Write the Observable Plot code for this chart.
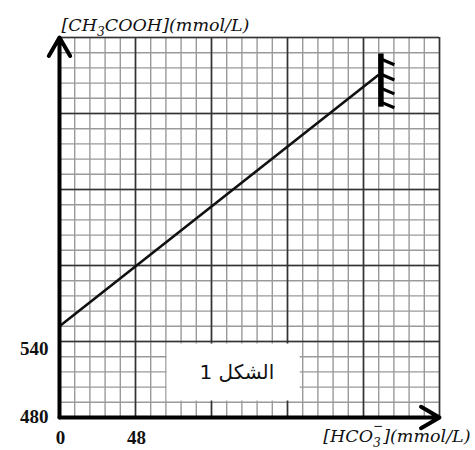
<!DOCTYPE html>
<html>
<head>
<meta charset="utf-8">
<script src="https://cdn.jsdelivr.net/npm/d3@7"></script>
<script src="https://cdn.jsdelivr.net/npm/@observablehq/plot@0.6"></script>
<style>
  html, body { margin: 0; padding: 0; background: #fff; }
  #chart svg { display: block; }
</style>
</head>
<body>
<div id="chart"></div>
<script>
// ---- data ----
const xDomain = [0, 240];
const yDomain = [480, 780];
const xMajorStep = 48;
const yMajorStep = 60;
const xTickLabels = [0, 48];
const yTickLabels = [480, 540];
const lineX = [0, 201];
const lineY = [552, 750];
const hatchX = 203;
const hatchY = [725, 767];
const hatchTickY = [763, 751, 740, 729];
const hatchTickDx = 8.5;
const hatchTickDy = -4.5;
const boxX = [68, 152];
const boxY = [493, 538];
const boxLabel = "الشكل 1";
const yTitle = "[CH₃COOH](mmol/L)";
const xTitle = "[HCO₃⁻](mmol/L)";

// ---- derived tables ----
const xMinor = d3.range(xDomain[0], xDomain[1] + 0.01, xMajorStep / 5);
const yMinor = d3.range(yDomain[0], yDomain[1] + 0.01, yMajorStep / 5);
const xMajor = d3.range(xDomain[0], xDomain[1] + 0.01, xMajorStep);
const yMajor = d3.range(yDomain[0], yDomain[1] + 0.01, yMajorStep);
const linePts = lineX.map((x, i) => ({x, y: lineY[i]}));
const hatchTicks = hatchTickY.map(y => ({x1: hatchX, y1: y, x2: hatchX + hatchTickDx, y2: y + hatchTickDy}));

const serif = "'Liberation Serif', 'DejaVu Serif', serif";
const italicSerif = "'DejaVu Serif', 'Liberation Serif', serif";

const chart = Plot.plot({
  width: 475,
  height: 450,
  marginLeft: 59,
  marginRight: 36,
  marginTop: 37,
  marginBottom: 33,
  x: {domain: xDomain},
  y: {domain: yDomain},
  axis: null,
  marks: [
    Plot.ruleX(xMinor, {stroke: "#9a9a9a", strokeWidth: 1.4}),
    Plot.ruleY(yMinor, {stroke: "#9a9a9a", strokeWidth: 1.4}),
    Plot.ruleX(xMajor, {stroke: "#333", strokeWidth: 1.6}),
    Plot.ruleY(yMajor, {stroke: "#333", strokeWidth: 1.6}),
    Plot.rect([{}], {x1: () => boxX[0], x2: () => boxX[1], y1: () => boxY[0], y2: () => boxY[1], fill: "#fff"}),
    Plot.text([boxLabel], {
      x: () => (boxX[0] + boxX[1]) / 2 + 2,
      y: () => (boxY[0] + boxY[1]) / 2,
      text: d => d,
      fontFamily: "'DejaVu Sans', 'Noto Sans', sans-serif",
      fontSize: 20,
      fontWeight: 500,
      fill: "#111"
    }),
    Plot.line(linePts, {x: "x", y: "y", stroke: "#111", strokeWidth: 2.6}),
    Plot.ruleX([hatchX], {y1: hatchY[0], y2: hatchY[1], stroke: "#000", strokeWidth: 5.5}),
    Plot.link(hatchTicks, {x1: "x1", y1: "y1", x2: "x2", y2: "y2", stroke: "#000", strokeWidth: 3.2}),
    Plot.arrow([{}], {x1: xDomain[0], y1: yDomain[0], x2: xDomain[0], y2: yDomain[1], stroke: "#000", strokeWidth: 4}),
    Plot.arrow([{}], {x1: xDomain[0], y1: yDomain[0], x2: xDomain[1], y2: yDomain[0], stroke: "#000", strokeWidth: 4}),
    Plot.axisX(xTickLabels, {
      tickSize: 0, tickPadding: 13, label: null, dx: 1,
      fontFamily: serif, fontWeight: "bold", fontSize: 19, fill: "#111"
    }),
    Plot.axisY([yTickLabels[0]], {
      tickSize: 0, tickPadding: 11, label: null, dy: -1,
      fontFamily: serif, fontWeight: "bold", fontSize: 19, fill: "#111"
    }),
    Plot.axisY([yTickLabels[1]], {
      tickSize: 0, tickPadding: 11, label: null, dy: 7,
      fontFamily: serif, fontWeight: "bold", fontSize: 19, fill: "#111"
    }),
    Plot.text([yTitle], {
      frameAnchor: "top-left", text: d => d, textAnchor: "start",
      dx: 2, dy: -19,
      fontFamily: italicSerif, fontStyle: "italic", fontSize: 17.5, fill: "#111"
    }),
    Plot.text([xTitle], {
      frameAnchor: "bottom-right", text: d => d, textAnchor: "end",
      dx: 31, dy: 24,
      fontFamily: italicSerif, fontStyle: "italic", fontSize: 17.5, fill: "#111"
    })
  ]
});

// Render chemical subscripts / superscripts as real sub/sup tspans
function formatChem(textEl) {
  const s = textEl.textContent;
  const sel = d3.select(textEl);
  sel.text(null);
  let buf = "";
  let offset = 0; // current vertical offset below baseline (px)
  const flush = () => {
    if (!buf) return;
    const t = sel.append("tspan").text(buf);
    if (offset !== 0) { t.attr("dy", -offset); offset = 0; }
    buf = "";
  };
  for (let i = 0; i < s.length; i++) {
    const c = s[i];
    if (c === "₃") {
      flush();
      sel.append("tspan").attr("font-size", "70%").attr("dy", 5 - offset).text("3");
      offset = 5;
    } else if (c === "⁻") {
      flush();
      sel.append("tspan").attr("font-size", "70%").attr("dx", -8).attr("dy", -12 - offset).text("−");
      offset = -12;
    } else {
      buf += c;
    }
  }
  flush();
}
d3.select(chart).selectAll("text").each(function() {
  if (this.textContent === yTitle || this.textContent === xTitle) formatChem(this);
});

document.getElementById("chart").appendChild(chart);
</script>
</body>
</html>
